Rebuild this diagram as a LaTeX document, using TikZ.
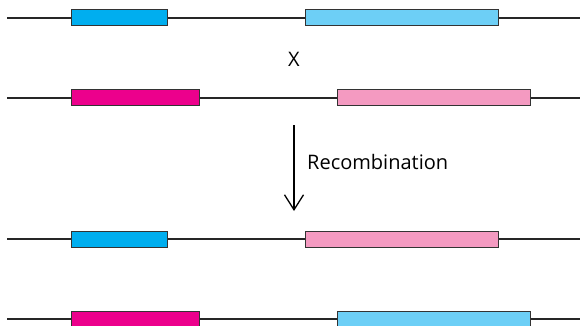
\documentclass[tikz,border=0pt]{standalone}
\usepackage{fontspec}
\setmainfont{Open Sans}
\usetikzlibrary{arrows.meta}
\definecolor{cyanA}{HTML}{00AEEF}
\definecolor{cyanL}{HTML}{6DCFF6}
\definecolor{magA}{HTML}{EC008C}
\definecolor{pinkL}{HTML}{F49AC1}
\begin{document}
\begin{tikzpicture}[x=1pt,y=-1pt,
  gene/.style={draw=black!80, line width=1pt, minimum height=16pt, inner sep=0pt, anchor=west},
  chrom/.style={draw=black!85, line width=1.1pt},
  lbl/.style={font=\fontsize{20}{24}\selectfont}]
\useasboundingbox (0,0) rectangle (580,326);
% row 1
\coordinate (l1a) at (7,18); \coordinate (l1b) at (580,18);
\draw[chrom] (l1a) -- (l1b);
\node[gene, fill=cyanA, minimum width=96pt] (g1a) at (71,18) {};
\node[gene, fill=cyanL, minimum width=193pt] (g1b) at (305,18) {};
% X
\node[lbl] (x) at (294,59) {X};
% row 2
\coordinate (l2a) at (7,98); \coordinate (l2b) at (580,98);
\draw[chrom] (l2a) -- (l2b);
\node[gene, fill=magA, minimum width=128pt] (g2a) at (71,98) {};
\node[gene, fill=pinkL, minimum width=193pt] (g2b) at (337,98) {};
% arrow
\coordinate (ar1) at (294,125); \coordinate (ar2) at (294,211);
\draw[line width=1.4pt, -{Straight Barb[length=15pt,width=19pt,line width=1.3pt]}] (ar1) -- (ar2);
\node[lbl, anchor=west, inner sep=0pt] (rec) at (307,162) {Recombination};
% row 3
\coordinate (l3a) at (7,239); \coordinate (l3b) at (580,239);
\draw[chrom] (l3a) -- (l3b);
\node[gene, fill=cyanA, minimum width=96pt] (g3a) at (71,239) {};
\node[gene, fill=pinkL, minimum width=193pt] (g3b) at (305,239) {};
% row 4
\coordinate (l4a) at (7,319); \coordinate (l4b) at (580,319);
\draw[chrom] (l4a) -- (l4b);
\node[gene, fill=magA, minimum width=128pt] (g4a) at (71,319) {};
\node[gene, fill=cyanL, minimum width=193pt] (g4b) at (337,319) {};
\end{tikzpicture}
\end{document}
